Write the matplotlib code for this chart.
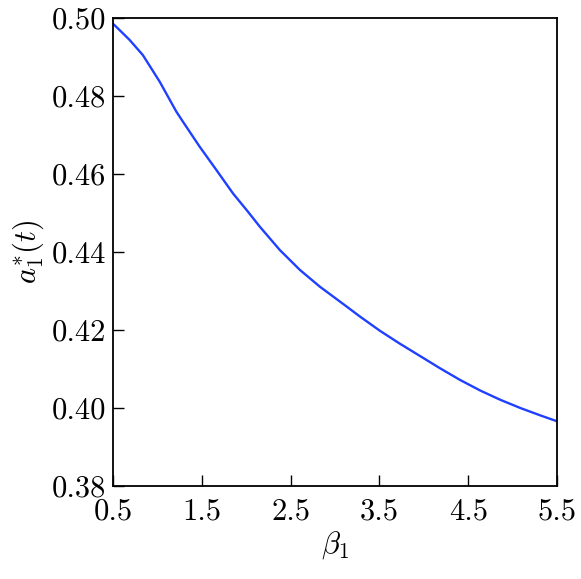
import matplotlib
matplotlib.use("Agg")
import matplotlib.pyplot as plt

plt.rcParams["font.family"] = "serif"
plt.rcParams["font.serif"] = ["cmr10"]
plt.rcParams["mathtext.fontset"] = "cm"
plt.rcParams["axes.unicode_minus"] = False

# valori
beta1 = [0.5, 0.525, 0.686, 0.836, 1.025, 1.213, 1.288, 1.476, 1.665,
         1.852, 2.021, 2.153, 2.379, 2.605, 2.83, 3.132, 3.278, 3.506,
         3.73, 3.96, 4.182, 4.408, 4.634, 4.862, 5.087, 5.313, 5.5]
a1 = [0.4985, 0.4980, 0.4944, 0.4905, 0.4837, 0.4760, 0.4734, 0.4670,
      0.4610, 0.4550, 0.4503, 0.4465, 0.4405, 0.4354, 0.4311, 0.4260,
      0.4235, 0.4198, 0.4165, 0.4133, 0.4102, 0.4072, 0.4045, 0.4021,
      0.4000, 0.3981, 0.3966]

xticks = [0.5, 1.5, 2.5, 3.5, 4.5, 5.5]
xticklabels = ["0.5", "1.5", "2.5", "3.5", "4.5", "5.5"]
yticks = [0.38, 0.40, 0.42, 0.44, 0.46, 0.48, 0.50]
yticklabels = ["0.38", "0.40", "0.42", "0.44", "0.46", "0.48", "0.50"]

fig = plt.figure(figsize=(5.81, 5.79), dpi=100)
ax = fig.add_axes([0.1945, 0.1606, 0.7642, 0.8083])

ax.plot(beta1, a1, color="#2040ff", linewidth=1.7)

ax.set_xlim(0.5, 5.5)
ax.set_ylim(0.38, 0.50)
ax.set_xticks(xticks)
ax.set_xticklabels(xticklabels)
ax.set_yticks(yticks)
ax.set_yticklabels(yticklabels)
ax.tick_params(direction="in", length=8, width=1, labelsize=22)
ax.tick_params(axis="x", pad=9)
ax.tick_params(axis="y", pad=5)
for s in ax.spines.values():
    s.set_linewidth(1.3)

ax.set_xlabel(r"$\beta_1$", fontsize=22, labelpad=2)
ax.set_ylabel(r"$a_1^{*}(t)$", fontsize=22, labelpad=4)

fig.savefig("out.png", dpi=100)
